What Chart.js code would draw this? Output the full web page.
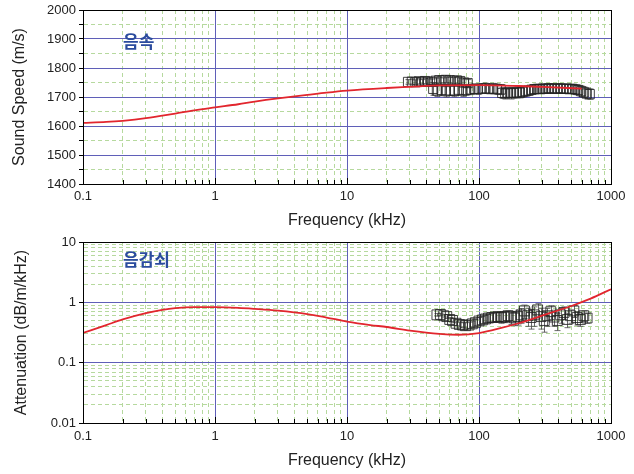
<!DOCTYPE html>
<html>
<head>
<meta charset="utf-8">
<script src="https://cdn.jsdelivr.net/npm/chart.js@4/dist/chart.umd.min.js"></script>
<style>
html, body { margin: 0; padding: 0; background: #fff; }
#wrap { position: relative; width: 634px; height: 474px; overflow: hidden; }
canvas { position: absolute; left: 0; }
#speedChart { top: 0; }
#attChart { top: 234px; }
.tag { position: absolute; font-family: "Noto Sans CJK KR"; font-weight: bold; font-size: 17px; line-height: 17px; color: #2b4c9e; }
</style>
</head>
<body>
<div id="wrap">
  <canvas id="speedChart" width="634" height="234"></canvas>
  <canvas id="attChart" width="634" height="240"></canvas>
  <div class="tag" style="left:123px;top:32px">음속</div>
  <div class="tag" style="left:123px;top:250px">음감쇠</div>
</div>
<script>
// tick labels
var freqTicks = [0.1, 1, 10, 100, 1000];
var speedTicks = [1400, 1500, 1600, 1700, 1800, 1900, 2000];
var attTicks = [0.01, 0.1, 1, 10];

// model curves (red)
var speedFitFreq = [0.1, 0.15, 0.2, 0.3, 0.5, 0.7, 1, 1.5, 2, 3, 5, 7, 10, 20, 30, 50, 100, 200, 300, 600];
var speedFit     = [1611, 1614, 1618, 1627, 1643, 1654, 1664, 1675, 1684, 1695, 1707, 1715, 1722, 1731, 1735, 1740, 1741, 1738, 1735, 1729];

var attFitFreq = [0.1, 0.15, 0.2, 0.3, 0.4, 0.5, 0.7, 1, 1.5, 2, 3, 5, 7, 10, 15, 20, 30, 50, 70, 100, 150, 200, 300, 500, 700, 1000];
var attFit     = [0.31, 0.42, 0.52, 0.66, 0.75, 0.8, 0.83, 0.83, 0.81, 0.78, 0.73, 0.64, 0.56, 0.48, 0.42, 0.39, 0.34, 0.3, 0.29, 0.31, 0.38, 0.45, 0.6, 0.87, 1.15, 1.65];

// measured points (squares) with +/- errors
var speedFreq = [29, 31, 33, 35, 37, 39, 41, 44, 47, 50, 53, 56, 60, 64, 68, 72, 77, 82,
                 45, 48, 52, 56, 60, 65, 70, 75, 80, 86, 92, 98, 105, 112, 120, 128, 137, 146,
                 150, 158, 166, 175, 184, 194, 204, 215, 226, 238, 250, 263, 277, 291, 306, 322,
                 339, 357, 375, 395, 416, 438, 461, 485, 510, 537, 565, 595, 625, 655, 690];
var speedMeas = [1752, 1753, 1751, 1754, 1752, 1755, 1753, 1752, 1756, 1758, 1757, 1759, 1758, 1756, 1757, 1755, 1750, 1748,
                 1728, 1722, 1724, 1720, 1723, 1721, 1725, 1722, 1724, 1726, 1728, 1727, 1729, 1730, 1728, 1729, 1727, 1726,
                 1714, 1712, 1715, 1713, 1714, 1716, 1715, 1718, 1720, 1722, 1725, 1727, 1728, 1727, 1729, 1728,
                 1730, 1729, 1728, 1730, 1729, 1728, 1729, 1727, 1728, 1726, 1724, 1720, 1716, 1712, 1710];
var speedErr = [8, 9, 8, 9, 8, 9, 10, 10, 9, 10, 9, 10, 10, 11, 10, 11, 12, 12,
                22, 20, 18, 20, 18, 20, 18, 20, 18, 18, 17, 18, 17, 18, 17, 18, 18, 17,
                18, 19, 18, 20, 18, 19, 18, 19, 17, 16, 16, 15, 16, 15, 16, 15,
                16, 15, 16, 15, 16, 15, 16, 15, 16, 16, 17, 18, 18, 19, 18];

var attFreq = [48, 51, 54, 57, 60, 63, 67, 71, 75, 79, 84, 89, 94, 100, 106, 112, 118, 125, 132, 140,
               148, 157, 166, 176, 186, 197, 209, 221, 234, 248, 263, 278, 295, 312, 330, 350, 370, 392,
               415, 440, 466, 494, 523, 554, 587, 622, 659];
var attMeas = [0.62, 0.63, 0.6, 0.58, 0.52, 0.5, 0.45, 0.43, 0.42, 0.41, 0.42, 0.44, 0.46, 0.49, 0.51, 0.53, 0.55, 0.56, 0.57, 0.58,
               0.56, 0.58, 0.6, 0.57, 0.55, 0.58, 0.62, 0.72, 0.6, 0.56, 0.62, 0.75, 0.58, 0.5, 0.6, 0.7, 0.57, 0.5,
               0.62, 0.68, 0.52, 0.6, 0.72, 0.56, 0.52, 0.6, 0.55];
var attErr = [0.03, 0.03, 0.03, 0.04, 0.04, 0.04, 0.04, 0.04, 0.04, 0.05, 0.05, 0.05, 0.06, 0.07, 0.07, 0.08, 0.08, 0.09, 0.1, 0.1,
              0.11, 0.12, 0.12, 0.14, 0.14, 0.16, 0.17, 0.18, 0.2, 0.2, 0.22, 0.2, 0.22, 0.18, 0.2, 0.18, 0.17, 0.16,
              0.17, 0.16, 0.14, 0.15, 0.16, 0.14, 0.12, 0.12, 0.1];

var BLUE = '#5f5fb8';
var GREEN = '#b6d99e';
var RED = '#e2262e';
var BOX = 'rgba(35,35,35,0.85)';

function logTicks(majors) {
    var t = [];
    for (var i = 0; i < majors.length - 1; i++) {
        for (var k = 1; k < 10; k++) t.push(+(majors[i] * k).toPrecision(6));
    }
    t.push(majors[majors.length - 1]);
    return t;
}
function halfTicks(majors) {
    var t = [];
    for (var i = 0; i < majors.length - 1; i++) {
        t.push(majors[i]);
        t.push((majors[i] + majors[i + 1]) / 2);
    }
    t.push(majors[majors.length - 1]);
    return t;
}
function isMajor(v, majors) {
    return majors.some(function (m) { return Math.abs(v - m) <= Math.abs(m) * 1e-6; });
}
function pts(xs, ys) {
    return xs.map(function (x, i) { return {x: x, y: ys[i]}; });
}

// error bars + frame + inward x ticks
function extrasPlugin(xs, ys, errs) {
    return {
        id: 'extras',
        beforeDatasetsDraw: function (chart) {
            var ctx = chart.ctx, sx = chart.scales.x, sy = chart.scales.y;
            ctx.save();
            ctx.strokeStyle = 'rgba(70,70,70,0.8)';
            ctx.lineWidth = 1;
            ctx.beginPath();
            for (var i = 0; i < xs.length; i++) {
                var px = Math.round(sx.getPixelForValue(xs[i])) + 0.5;
                var y1 = sy.getPixelForValue(ys[i] + errs[i]);
                var y2 = sy.getPixelForValue(ys[i] - errs[i]);
                ctx.moveTo(px, y1); ctx.lineTo(px, y2);
                ctx.moveTo(px - 3, y1); ctx.lineTo(px + 3, y1);
                ctx.moveTo(px - 3, y2); ctx.lineTo(px + 3, y2);
            }
            ctx.stroke();
            ctx.restore();
        },
        afterDatasetsDraw: function (chart) {
            var ctx = chart.ctx, a = chart.chartArea, sx = chart.scales.x;
            ctx.save();
            ctx.strokeStyle = '#000';
            ctx.lineWidth = 1;
            ctx.strokeRect(Math.round(a.left) + 0.5, Math.round(a.top) + 0.5,
                           Math.round(a.right - a.left), Math.round(a.bottom - a.top));
            ctx.beginPath();
            sx.ticks.forEach(function (t) {
                var px = Math.round(sx.getPixelForValue(t.value)) + 0.5;
                var len = isMajor(t.value, freqTicks) ? 6 : 4;
                ctx.moveTo(px, a.bottom); ctx.lineTo(px, a.bottom - len);
            });
            ctx.stroke();
            ctx.restore();
        }
    };
}

function xScale(axisH, labelPad) {
    return {
        type: 'logarithmic', min: 0.1, max: 1000, position: 'bottom',
        afterBuildTicks: function (s) { s.ticks = logTicks(freqTicks).map(function (v) { return {value: v}; }); },
        afterFit: function (s) { s.height = axisH; s.paddingLeft = 0; s.paddingRight = 0; },
        ticks: {
            autoSkip: false, maxRotation: 0, minRotation: 0, padding: labelPad, color: '#222',
            font: {family: 'Liberation Sans', size: 13},
            callback: function (v) { return isMajor(v, freqTicks) ? String(v) : ''; }
        },
        grid: {
            drawTicks: false, lineWidth: 1,
            color: function (c) { return c.tick && isMajor(c.tick.value, freqTicks) ? BLUE : GREEN; }
        },
        border: {
            color: '#000', width: 1,
            dash: function (c) { return c.tick && !isMajor(c.tick.value, freqTicks) ? [4, 3] : []; }
        },
        title: {
            display: true, text: 'Frequency (kHz)', color: '#222',
            font: {family: 'Liberation Sans', size: 16}, padding: {top: 0, bottom: 4}
        }
    };
}

// sound speed panel
new Chart(document.getElementById('speedChart').getContext('2d'), {
    type: 'scatter',
    data: {
        datasets: [
            {data: pts(speedFitFreq, speedFit), showLine: true, borderColor: RED, borderWidth: 1.8,
             pointRadius: 0, cubicInterpolationMode: 'monotone'},
            {data: pts(speedFreq, speedMeas), showLine: false, pointStyle: 'rect', pointRadius: 6.5,
             borderColor: BOX, backgroundColor: 'rgba(0,0,0,0)', borderWidth: 1}
        ]
    },
    options: {
        responsive: false, animation: false,
        layout: {padding: {top: 10, right: 23, left: 0, bottom: 0}},
        plugins: {legend: {display: false}, tooltip: {enabled: false}},
        scales: {
            x: xScale(50, 5),
            y: {
                type: 'linear', min: 1400, max: 2000,
                afterBuildTicks: function (s) { s.ticks = halfTicks(speedTicks).map(function (v) { return {value: v}; }); },
                afterFit: function (s) { s.width = 83; s.paddingTop = 0; s.paddingBottom = 0; },
                ticks: {
                    autoSkip: false, padding: 3, color: '#222', font: {family: 'Liberation Sans', size: 13},
                    callback: function (v) { return isMajor(v, speedTicks) ? String(v) : ''; }
                },
                grid: {
                    lineWidth: 1, tickLength: 4, tickColor: '#000',
                    color: function (c) { return c.tick && isMajor(c.tick.value, speedTicks) ? BLUE : GREEN; }
                },
                border: {
                    color: '#000', width: 1,
                    dash: function (c) { return c.tick && !isMajor(c.tick.value, speedTicks) ? [4, 3] : []; }
                },
                title: {
                    display: true, text: 'Sound Speed (m/s)', color: '#222',
                    font: {family: 'Liberation Sans', size: 16}, padding: {top: 10, bottom: 0}
                }
            }
        }
    },
    plugins: [extrasPlugin(speedFreq, speedMeas, speedErr)]
});

// attenuation panel
new Chart(document.getElementById('attChart').getContext('2d'), {
    type: 'scatter',
    data: {
        datasets: [
            {data: pts(attFitFreq, attFit), showLine: true, borderColor: RED, borderWidth: 1.8,
             pointRadius: 0, cubicInterpolationMode: 'monotone'},
            {data: pts(attFreq, attMeas), showLine: false, pointStyle: 'rect', pointRadius: 7,
             borderColor: BOX, backgroundColor: 'rgba(0,0,0,0)', borderWidth: 1}
        ]
    },
    options: {
        responsive: false, animation: false,
        layout: {padding: {top: 5, right: 23, left: 0, bottom: 0}},
        plugins: {legend: {display: false}, tooltip: {enabled: false}},
        scales: {
            x: xScale(51, 6),
            y: {
                type: 'logarithmic', min: 0.01, max: 10,
                afterBuildTicks: function (s) { s.ticks = logTicks(attTicks).map(function (v) { return {value: v}; }); },
                afterFit: function (s) { s.width = 83; s.paddingTop = 0; s.paddingBottom = 0; },
                ticks: {
                    autoSkip: false, padding: 3, color: '#222', font: {family: 'Liberation Sans', size: 13},
                    callback: function (v) { return isMajor(v, attTicks) ? String(v) : ''; }
                },
                grid: {
                    lineWidth: 1, tickLength: 4,
                    tickColor: function (c) { return c.tick && isMajor(c.tick.value, attTicks) ? '#000' : 'rgba(0,0,0,0)'; },
                    color: function (c) { return c.tick && isMajor(c.tick.value, attTicks) ? BLUE : GREEN; }
                },
                border: {
                    color: '#000', width: 1,
                    dash: function (c) { return c.tick && !isMajor(c.tick.value, attTicks) ? [4, 3] : []; }
                },
                title: {
                    display: true, text: 'Attenuation (dB/m/kHz)', color: '#222',
                    font: {family: 'Liberation Sans', size: 16}, padding: {top: 12, bottom: 0}
                }
            }
        }
    },
    plugins: [extrasPlugin(attFreq, attMeas, attErr)]
});
</script>
</body>
</html>
